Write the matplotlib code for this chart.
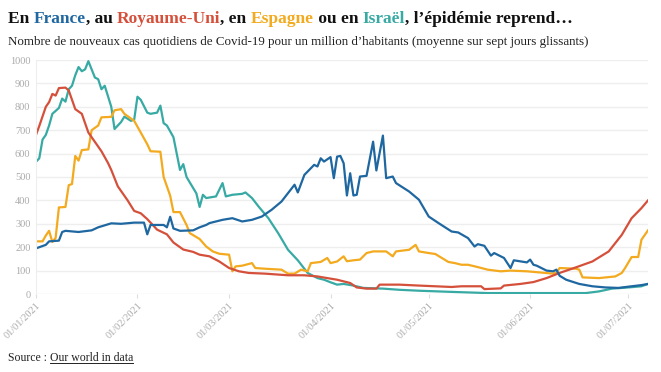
import numpy as np
import pandas as pd
import matplotlib
matplotlib.use("Agg")
import matplotlib.pyplot as plt
from matplotlib.lines import Line2D

# days since 01/01/2021 and cases per million (7-day average)
fr_days = [0, 2, 3, 4, 7, 8, 9, 13, 17, 19, 23, 26, 30, 33, 34, 35, 39, 40, 41, 42, 44, 48, 50, 52,
           53, 55, 57, 60, 63, 66, 69, 72, 75, 77, 79, 80, 82, 85, 86, 87, 88, 90, 91, 92, 93, 94,
           95, 96, 97, 98, 99, 101, 103, 104, 106, 107, 109, 110, 114, 117, 120, 123, 127, 129,
           132, 134, 135, 137, 139, 140, 143, 145, 146, 150, 151, 152, 153, 156, 158, 159, 160,
           162, 166, 170, 174, 178, 182, 185, 187]
fr_vals = [195, 205, 210, 225, 228, 265, 270, 265, 272, 285, 302, 300, 305, 305, 255, 295, 295, 285,
           330, 280, 270, 272, 285, 295, 303, 310, 317, 324, 310, 317, 331, 360, 395, 431, 467, 434,
           509, 552, 545, 580, 566, 585, 495, 587, 590, 559, 421, 516, 421, 424, 502, 505, 651,
           528, 677, 495, 502, 474, 438, 403, 331, 303, 267, 263, 239, 203, 213, 206, 164, 175,
           154, 111, 144, 135, 147, 125, 121, 100, 97, 104, 78, 61, 43, 33, 28, 26, 33, 38, 43]

uk_days = [0, 1, 3, 4, 5, 6, 7, 9, 10, 12, 14, 16, 20, 22, 23, 25, 28, 30, 32, 34, 37, 40, 42, 45,
           48, 50, 53, 56, 59, 62, 65, 70, 77, 82, 86, 89, 92, 96, 98, 101, 104, 105, 111, 117,
           122, 127, 130, 136, 137, 142, 143, 148, 152, 156, 160, 165, 170, 175, 179, 182, 185, 187]
uk_vals = [680, 718, 800, 820, 855, 848, 880, 882, 870, 790, 770, 690, 610, 560, 530, 460, 400, 355,
           345, 320, 275, 255, 220, 190, 180, 168, 161, 139, 111, 97, 90, 87, 80, 80, 75, 68, 61,
           47, 28, 23, 23, 40, 40, 36, 33, 30, 33, 33, 21, 24, 36, 43, 51, 68, 90, 114, 139, 182,
           253, 324, 367, 400]

es_days = [0, 2, 3, 4, 5, 6, 7, 9, 10, 11, 12, 13, 14, 16, 17, 19, 20, 23, 24, 26, 27, 30, 32, 34,
           35, 38, 39, 41, 42, 44, 46, 47, 50, 52, 54, 56, 59, 60, 61, 63, 66, 67, 70, 75, 77, 79,
           81, 83, 84, 87, 89, 90, 92, 94, 95, 97, 99, 101, 103, 107, 109, 110, 114, 116, 117,
           120, 122, 124, 126, 128, 130, 132, 135, 138, 142, 145, 150, 154, 158, 159, 160, 165,
           166, 167, 172, 177, 179, 180, 182, 184, 185, 187]
es_vals = [225, 225, 250, 270, 222, 240, 370, 372, 465, 470, 590, 570, 615, 618, 700, 720, 755, 757,
           785, 790, 770, 740, 690, 640, 610, 608, 500, 420, 350, 350, 295, 260, 235, 203, 182,
           172, 168, 97, 118, 121, 132, 111, 108, 104, 87, 87, 104, 97, 132, 137, 154, 132, 139,
           161, 140, 144, 147, 175, 182, 182, 161, 182, 189, 210, 182, 175, 171, 154, 137, 132,
           125, 125, 115, 104, 97, 100, 97, 92, 87, 92, 111, 108, 104, 71, 68, 75, 90, 111, 158,
           158, 232, 272]

il_days = [0, 1, 2, 3, 4, 5, 7, 8, 9, 10, 11, 12, 13, 14, 15, 16, 18, 19, 20, 21, 23, 24, 26, 27,
           29, 30, 31, 32, 34, 35, 37, 38, 39, 40, 42, 44, 45, 46, 49, 50, 51, 52, 55, 57, 58, 60,
           63, 64, 66, 68, 71, 74, 77, 80, 83, 86, 88, 90, 92, 94, 97, 100, 106, 111, 117, 127,
           138, 160, 168, 172, 176, 181, 185, 187]
il_vals = [565, 580, 660, 680, 720, 770, 795, 835, 822, 875, 890, 935, 970, 952, 960, 995, 925, 918,
           875, 890, 800, 705, 735, 758, 740, 745, 843, 830, 775, 770, 775, 805, 730, 720, 670,
           530, 555, 500, 430, 372, 424, 410, 417, 474, 417, 424, 428, 434, 410, 374, 324, 260,
           189, 144, 90, 68, 61, 50, 40, 43, 36, 26, 23, 18, 14, 9, 4, 4, 4, 11, 23, 28, 33, 43]

month_days = [0, 31, 59, 90, 120, 151, 181]
month_labels = ["01/01/2021", "01/02/2021", "01/03/2021", "01/04/2021",
                "01/05/2021", "01/06/2021", "01/07/2021"]
y_ticks = list(range(0, 1001, 100))

BLUE = "#1f67a0"
RED = "#d5503b"
YELLOW = "#f3aa1e"
TEAL = "#38aaa4"
GREY = "#aaaaaa"

plt.rcParams["font.family"] = ["Liberation Serif", "DejaVu Serif"]

fig = plt.figure(figsize=(6.61, 3.72), dpi=100)
ax = fig.add_axes([36 / 661, 1 - 294 / 372, (648 - 36) / 661, 234 / 372])

start = pd.Timestamp("2021-01-01")
def to_dates(days):
    return start + pd.to_timedelta(days, unit="D")

for days, vals, c in [(il_days, il_vals, TEAL), (es_days, es_vals, YELLOW),
                      (uk_days, uk_vals, RED), (fr_days, fr_vals, BLUE)]:
    ax.plot(to_dates(days), vals, color=c, lw=1.6, solid_joinstyle="round")

ax.set_xlim(start, to_dates([187])[0])
ax.set_ylim(0, 1000)
ax.set_yticks(y_ticks)
ax.set_yticklabels([str(v) for v in y_ticks], fontsize=7.5, color=GREY)
ax.set_xticks(to_dates(month_days))
ax.set_xticklabels(month_labels, rotation=45, ha="right", rotation_mode="anchor",
                   fontsize=7.5, color=GREY)
ax.grid(axis="y", color="#eeeeee", lw=1)
ax.set_axisbelow(True)
for s in ["top", "right", "bottom"]:
    ax.spines[s].set_visible(False)
ax.spines["left"].set_color("#eeeeee")
ax.tick_params(axis="y", length=0, pad=4)
ax.tick_params(axis="x", length=3, color="#dddddd", pad=2)

# title with coloured country names
pieces = [("En ", "#111111"), ("France", BLUE), (", au ", "#111111"), ("Royaume-Uni", RED),
          (", en ", "#111111"), ("Espagne", YELLOW), (" ou en ", "#111111"), ("Israël", TEAL),
          (", l\u2019épidémie reprend\u2026", "#111111")]
fig.canvas.draw()
r = fig.canvas.get_renderer()
x = 8 / 661
for txt, col in pieces:
    t = fig.text(x, 1 - 23 / 372, txt, color=col, fontsize=12.5, fontweight="bold", ha="left",
                 va="baseline")
    bb = t.get_window_extent(renderer=r)
    x = bb.x1 / fig.bbox.width

fig.text(8 / 661, 1 - 45 / 372,
         "Nombre de nouveaux cas quotidiens de Covid-19 pour un million d\u2019habitants "
         "(moyenne sur sept jours glissants)", fontsize=9.4, color="#222222", va="baseline")

s1 = fig.text(8 / 661, 1 - 361 / 372, "Source : ", fontsize=8.5, color="#222222", va="baseline")
bb = s1.get_window_extent(renderer=r)
s2 = fig.text(bb.x1 / 661, 1 - 361 / 372, "Our world in data", fontsize=8.5, color="#222222",
              va="baseline")
bb2 = s2.get_window_extent(renderer=r)
fig.add_artist(Line2D([bb2.x0 / 661, bb2.x1 / 661], [1 - 363 / 372, 1 - 363 / 372],
                      color="#222222", lw=0.7))

fig.savefig("out.png", dpi=100, facecolor="white")
